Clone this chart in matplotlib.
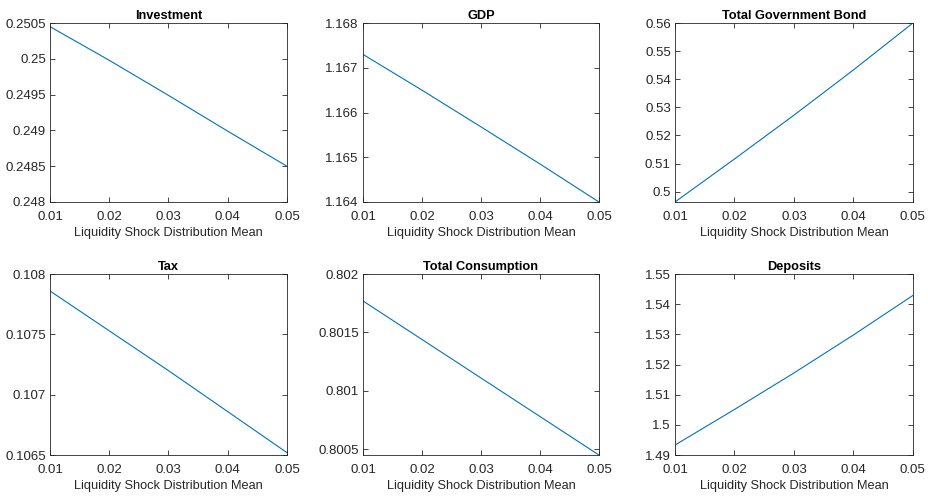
import numpy as np
import matplotlib
matplotlib.use("Agg")
import matplotlib.pyplot as plt
from matplotlib.ticker import FormatStrFormatter

# liquidity shock distribution mean (x axis shared by every panel)
shock_mean = [0.01, 0.02, 0.03, 0.04, 0.05]

investment = [0.25045, 0.24998, 0.24949, 0.24899, 0.24850]
gdp = [1.16730, 1.16650, 1.16568, 1.16485, 1.16400]
gov_bond = [0.4963, 0.5116, 0.5272, 0.5433, 0.5600]
tax = [0.10786, 0.10753, 0.10720, 0.10686, 0.10652]
consumption = [0.80177, 0.80144, 0.80111, 0.80078, 0.80045]
deposits = [1.4933, 1.5051, 1.5172, 1.5298, 1.5429]

titles = ["Investment", "GDP", "Total Government Bond",
          "Tax", "Total Consumption", "Deposits"]
series = [investment, gdp, gov_bond, tax, consumption, deposits]
ylims = [(0.248, 0.2505), (1.164, 1.168), (0.4963, 0.56),
         (0.1065, 0.108), (0.80045, 0.802), (1.49, 1.55)]
yticks = [np.arange(0.248, 0.25051, 0.0005), np.arange(1.164, 1.16801, 0.001),
          np.arange(0.50, 0.5601, 0.01), np.arange(0.1065, 0.10801, 0.0005),
          np.arange(0.8005, 0.80201, 0.0005), np.arange(1.49, 1.5501, 0.01)]
xticks = [0.01, 0.02, 0.03, 0.04, 0.05]

plt.rcParams['font.family'] = ['Liberation Sans', 'DejaVu Sans']
axcol = '#262626'

fig = plt.figure(figsize=(9.29, 4.97), dpi=100)
lefts = [0.0538, 0.3907, 0.7266]
widths = [0.255, 0.254, 0.256]
bottoms = [0.5936, 0.0845]
heights = [0.360, 0.364]

for i in range(6):
    r, c = divmod(i, 3)
    ax = fig.add_axes([lefts[c], bottoms[r], widths[c], heights[r]])
    ax.plot(shock_mean, series[i], color='#0072BD', lw=0.8)
    ax.set_xlim(0.01, 0.05)
    ax.set_ylim(*ylims[i])
    ax.set_xticks(xticks)
    ax.set_yticks(yticks[i])
    ax.xaxis.set_major_formatter(FormatStrFormatter('%g'))
    ax.yaxis.set_major_formatter(FormatStrFormatter('%g'))
    ax.tick_params(direction='in', top=True, right=True, length=3.5, width=0.6,
                   colors=axcol, labelsize=9.5)
    ax.tick_params(axis='x', pad=6.5)
    ax.tick_params(axis='y', pad=3)
    for sp in ax.spines.values():
        sp.set_color(axcol)
        sp.set_linewidth(0.6)
    ax.set_title(titles[i], fontsize=9.2, fontweight='bold', pad=3)
    ax.set_xlabel('Liquidity Shock Distribution Mean', fontsize=9.2,
                  color=axcol, labelpad=3)

fig.savefig('out.png', dpi=100)
